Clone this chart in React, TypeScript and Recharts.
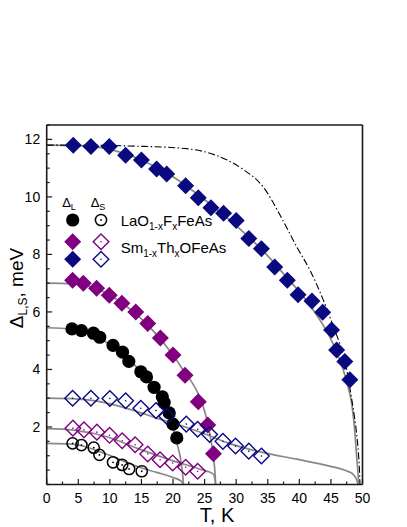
import React from 'react'
import { ComposedChart, XAxis, YAxis, Scatter, Line } from 'recharts'

// measured gaps, [T (K), gap (meV)]
const smLargeGap = [
  [4.2, 11.8], [7.0, 11.75], [9.9, 11.75], [12.5, 11.45], [15.0, 11.28], [17.4, 10.97],
  [19.0, 10.8], [22.0, 10.39], [24.0, 9.97], [26.0, 9.62], [28.0, 9.43], [30.0, 9.18],
  [32.0, 8.55], [34.0, 8.2], [36.1, 7.56], [38.1, 7.1], [39.8, 6.6], [42.0, 6.38],
  [43.7, 5.99], [45.1, 5.37], [45.9, 4.68], [47.2, 4.28], [48.0, 3.64],
]
const smLargeGap2 = [
  [4.1, 7.1], [5.8, 7.0], [7.9, 6.82], [9.9, 6.58], [11.9, 6.3], [14.1, 6.0], [16.0, 5.6],
  [18.0, 5.09], [20.0, 4.5], [21.9, 3.8], [24.0, 2.88], [25.5, 2.07], [26.4, 1.07],
]
const laLargeGap = [
  [4.0, 5.41], [5.5, 5.35], [7.4, 5.26], [8.4, 5.12], [10.5, 4.84], [12.0, 4.6], [13.0, 4.28],
  [14.9, 3.92], [15.8, 3.74], [17.0, 3.38], [18.3, 3.05], [18.6, 2.85], [19.4, 2.49],
  [20.0, 2.1], [20.6, 1.62],
]
const smSmallGap = [
  [4.1, 3.0], [7.0, 3.0], [10.0, 2.99], [12.5, 2.91], [14.9, 2.65], [17.3, 2.57], [19.0, 2.37],
  [22.1, 2.1], [23.9, 1.92], [25.8, 1.74], [27.9, 1.5], [29.9, 1.34], [32.0, 1.16], [34.0, 0.99],
]
const smSmallGap2 = [
  [4.15, 1.96], [5.9, 1.9], [7.95, 1.82], [9.95, 1.71], [11.95, 1.52], [14.0, 1.38],
  [16.0, 1.06], [17.95, 0.86], [19.95, 0.75], [22.0, 0.6], [23.9, 0.46],
]
const laSmallGap = [
  [4.1, 1.43], [5.5, 1.37], [7.45, 1.28], [8.35, 1.03], [10.5, 0.77], [11.95, 0.68],
  [13.05, 0.54], [15.05, 0.46],
]

// fit curves
const fitSmLarge = [
  [0, 11.8], [5, 11.78], [10, 11.65], [15, 11.28], [20, 10.7], [25, 9.9], [30, 9.0],
  [35, 7.95], [38, 7.2], [40, 6.7], [42.2, 6.07], [44.8, 5.14], [46.4, 4.34], [47.7, 3.41],
  [48.3, 2.8], [48.8, 1.8], [49.1, 0.9], [49.35, 0.2], [49.4, 0],
]
const bcsSmLarge = [
  [0, 11.8], [10, 11.79], [13, 11.77], [21, 11.7], [27, 11.43], [31, 10.97], [34.3, 10.34],
  [37.4, 9.18], [39.6, 8.26], [41.8, 7.4], [43.8, 6.41], [45.4, 5.49], [46.7, 4.68],
  [47.5, 3.99], [48.3, 2.95], [48.7, 2.4], [49.05, 1.8], [49.35, 1.1], [49.5, 0.6], [49.6, 0],
]
const fitSmLarge2 = [
  [0, 7.0], [4, 6.98], [8, 6.8], [12, 6.3], [16, 5.55], [20, 4.5], [22, 3.85], [23, 3.55],
  [24, 3.15], [24.8, 2.7], [25.5, 2.1], [26, 1.55], [26.4, 0.95], [26.65, 0.4], [26.75, 0],
]
const fitLaLarge = [
  [0, 5.45], [4, 5.4], [8, 5.12], [12, 4.55], [15, 3.9], [17, 3.35], [18.7, 2.85],
  [19.5, 2.35], [20, 2.0], [20.6, 1.45], [21.1, 1.0], [21.45, 0.5], [21.6, 0.15], [21.65, 0],
]
const fitSmSmall = [
  [0, 3.0], [5, 2.97], [8, 2.9], [11, 2.75], [14.8, 2.5], [17.5, 2.3], [20, 2.14],
  [25.3, 1.74], [29, 1.42], [34.3, 1.11], [39.6, 0.88], [44.8, 0.64], [47.5, 0.47],
  [48.5, 0.36], [49.05, 0.18], [49.3, 0],
]
const fitSmSmall2 = [
  [0, 1.94], [4.2, 1.89], [9.5, 1.66], [14.8, 1.22], [20, 0.82], [24.3, 0.53],
  [26.4, 0.36], [26.65, 0.15], [26.75, 0],
]
const fitLaSmall = [
  [0, 1.43], [4.2, 1.4], [9.5, 1.05], [14.8, 0.59], [17.4, 0.42], [20, 0.24],
  [21.3, 0.12], [21.65, 0],
]

const xTicks = [0, 2.5, 5, 7.5, 10, 12.5, 15, 17.5, 20, 22.5, 25, 27.5, 30, 32.5, 35, 37.5, 40, 42.5, 45, 47.5, 50]
const xLabels = [0, 5, 10, 15, 20, 25, 30, 35, 40, 45, 50]
const yTicks = [0, 0.5, 1, 1.5, 2, 2.5, 3, 3.5, 4, 4.5, 5, 5.5, 6, 6.5, 7, 7.5, 8, 8.5, 9, 9.5, 10, 10.5, 11, 11.5, 12, 12.5]
const yLabels = [2, 4, 6, 8, 10, 12]

const NAVY = '#0a0a80'
const PURPLE = '#800080'
const FIT = '#888888'
const AXIS = '#1a1a1a'
const FONT = '"Liberation Sans", Arial, sans-serif'

const pts = (a: number[][]) => a.map(([x, y]) => ({ x, y }))

const filledDiamond = (color: string) => (p: any) => (
  <polygon
    points={`${p.cx},${p.cy - 8.5} ${p.cx + 8.5},${p.cy} ${p.cx},${p.cy + 8.5} ${p.cx - 8.5},${p.cy}`}
    fill={color}
  />
)
const openDiamond = (color: string) => (p: any) => (
  <g>
    <polygon
      points={`${p.cx},${p.cy - 7.8} ${p.cx + 7.8},${p.cy} ${p.cx},${p.cy + 7.8} ${p.cx - 7.8},${p.cy}`}
      fill="none"
      stroke={color}
      strokeWidth={1.4}
    />
    <circle cx={p.cx} cy={p.cy} r={0.8} fill={color} />
  </g>
)
const filledCircle = (p: any) => <circle cx={p.cx} cy={p.cy} r={6.6} fill="#000" />
const openCircle = (p: any) => (
  <g>
    <circle cx={p.cx} cy={p.cy} r={5.6} fill="none" stroke="#000" strokeWidth={1.5} />
    <circle cx={p.cx} cy={p.cy} r={0.9} fill="#000" />
  </g>
)

const tickText = { fontFamily: FONT, fontSize: 14, fill: '#000' }

const BottomTick = (p: any) => {
  const v = p.payload.value
  const major = xLabels.includes(v)
  return (
    <g>
      <line x1={p.x} x2={p.x} y1={p.y} y2={p.y - (major ? 5.5 : 3)} stroke={AXIS} strokeWidth={1.2} />
      {major && <text x={p.x} y={p.y + 18} textAnchor="middle" {...tickText}>{v}</text>}
    </g>
  )
}
const TopTick = (p: any) => {
  const major = xLabels.includes(p.payload.value)
  return <line x1={p.x} x2={p.x} y1={p.y} y2={p.y + (major ? 5.5 : 3)} stroke={AXIS} strokeWidth={1.2} />
}
const LeftTick = (p: any) => {
  const v = p.payload.value
  const major = yLabels.includes(v)
  return (
    <g>
      <line x1={p.x} x2={p.x + (major ? 5.5 : 3)} y1={p.y} y2={p.y} stroke={AXIS} strokeWidth={1.2} />
      {major && <text x={p.x - 6.5} y={p.y + 5} textAnchor="end" {...tickText}>{v}</text>}
    </g>
  )
}
const RightTick = (p: any) => {
  const major = yLabels.includes(p.payload.value)
  return <line x1={p.x} x2={p.x - (major ? 5.5 : 3)} y1={p.y} y2={p.y} stroke={AXIS} strokeWidth={1.2} />
}

const axisLine = { stroke: AXIS, strokeWidth: 1.6 }

const App = () => {
  const legendFont = { fontFamily: FONT, fontSize: 15, fill: '#000' }
  return (
    <div style={{ position: 'absolute', left: 0, top: 0, width: 407, height: 527, background: '#fff' }}>
      <ComposedChart width={407} height={527} margin={{ top: 124, right: 43.5, bottom: 41.5, left: 45.7 }}>
        <XAxis
          xAxisId="b"
          dataKey="x"
          type="number"
          domain={[0, 50]}
          ticks={xTicks}
          interval={0}
          height={1}
          tickSize={0}
          tickMargin={0}
          tickLine={false}
          axisLine={axisLine}
          tick={BottomTick}
        />
        <XAxis
          xAxisId="t"
          orientation="top"
          dataKey="x"
          type="number"
          domain={[0, 50]}
          ticks={xTicks}
          interval={0}
          height={1}
          tickSize={0}
          tickMargin={0}
          tickLine={false}
          axisLine={axisLine}
          tick={TopTick}
        />
        <YAxis
          yAxisId="l"
          dataKey="y"
          type="number"
          domain={[0, 12.5]}
          ticks={yTicks}
          interval={0}
          width={1}
          tickSize={0}
          tickMargin={0}
          tickLine={false}
          axisLine={axisLine}
          tick={LeftTick}
        />
        <YAxis
          yAxisId="r"
          orientation="right"
          dataKey="y"
          type="number"
          domain={[0, 12.5]}
          ticks={yTicks}
          interval={0}
          width={1}
          tickSize={0}
          tickMargin={0}
          tickLine={false}
          axisLine={axisLine}
          tick={RightTick}
        />

        <Scatter xAxisId="b" yAxisId="l" data={pts(smLargeGap)} shape={filledDiamond(NAVY)} isAnimationActive={false} />
        <Scatter xAxisId="b" yAxisId="l" data={pts(smLargeGap2)} shape={filledDiamond(PURPLE)} isAnimationActive={false} />
        <Scatter xAxisId="b" yAxisId="l" data={pts(laLargeGap)} shape={filledCircle} isAnimationActive={false} />
        <Scatter xAxisId="b" yAxisId="l" data={pts(smSmallGap)} shape={openDiamond(NAVY)} isAnimationActive={false} />
        <Scatter xAxisId="b" yAxisId="l" data={pts(smSmallGap2)} shape={openDiamond(PURPLE)} isAnimationActive={false} />
        <Scatter xAxisId="b" yAxisId="l" data={pts(laSmallGap)} shape={openCircle} isAnimationActive={false} />

        {[fitSmLarge, fitSmLarge2, fitLaLarge, fitSmSmall, fitSmSmall2, fitLaSmall].map((c, i) => (
          <Line
            key={i}
            xAxisId="b"
            yAxisId="l"
            data={pts(c)}
            dataKey="y"
            type="monotone"
            stroke={FIT}
            strokeWidth={1.7}
            dot={false}
            activeDot={false}
            isAnimationActive={false}
          />
        ))}
        <Line
          xAxisId="b"
          yAxisId="l"
          data={pts(bcsSmLarge)}
          dataKey="y"
          type="monotone"
          stroke="#000"
          strokeWidth={1.1}
          strokeDasharray="7 2.5 1.5 2.5"
          dot={false}
          activeDot={false}
          isAnimationActive={false}
        />
      </ComposedChart>

      <svg width={407} height={527} style={{ position: 'absolute', left: 0, top: 0, pointerEvents: 'none' }}>
        <text x={217} y={522} textAnchor="middle" fontFamily={FONT} fontSize={20}>T, K</text>
        <text transform="translate(23, 288) rotate(-90)" textAnchor="middle" fontFamily={FONT} fontSize={19}>
          Δ<tspan dy={4} fontSize={12}>L,S</tspan>
          <tspan dy={-4}>, meV</tspan>
        </text>

        <text x={69} y={207} textAnchor="middle" fontFamily={FONT} fontSize={13}>
          Δ<tspan dy={3} fontSize={9}>L</tspan>
        </text>
        <text x={98} y={207} textAnchor="middle" fontFamily={FONT} fontSize={13}>
          Δ<tspan dy={3} fontSize={9}>S</tspan>
        </text>

        {filledCircle({ cx: 72.7, cy: 220 })}
        {openCircle({ cx: 101, cy: 220 })}
        {filledDiamond(PURPLE)({ cx: 72.7, cy: 241.7 })}
        {openDiamond(PURPLE)({ cx: 101, cy: 241.7 })}
        {filledDiamond(NAVY)({ cx: 72.7, cy: 259.3 })}
        {openDiamond(NAVY)({ cx: 101, cy: 259.3 })}

        <text x={120.7} y={226} {...legendFont}>
          LaO<tspan dy={4} fontSize={10}>1-x</tspan>
          <tspan dy={-4}>F</tspan>
          <tspan dy={4} fontSize={10}>x</tspan>
          <tspan dy={-4}>FeAs</tspan>
        </text>
        <text x={120.7} y={253} {...legendFont}>
          Sm<tspan dy={4} fontSize={10}>1-x</tspan>
          <tspan dy={-4}>Th</tspan>
          <tspan dy={4} fontSize={10}>x</tspan>
          <tspan dy={-4}>OFeAs</tspan>
        </text>
      </svg>
    </div>
  )
}

export default App
